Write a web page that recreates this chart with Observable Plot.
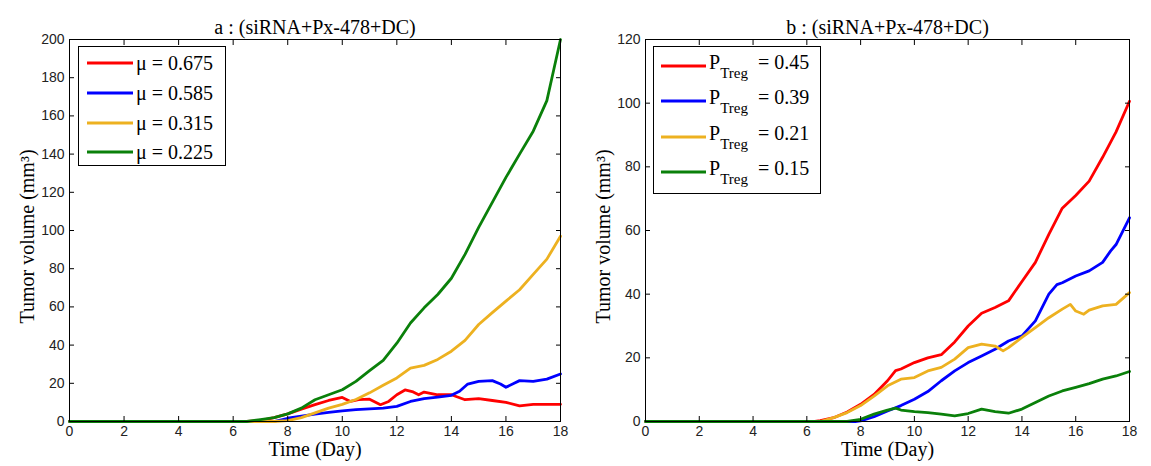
<!DOCTYPE html>
<html><head><meta charset="utf-8">
<script src="https://cdn.jsdelivr.net/npm/d3@7"></script>
<script src="https://cdn.jsdelivr.net/npm/@observablehq/plot@0.6"></script>
<style>
body{margin:0;background:#fff;}
#wrap{display:flex;width:1151px;height:466px;}
svg{overflow:visible}
</style></head><body><div id="wrap"></div>
<script>
// ---- Panel a ----
const titleA = "a : (siRNA+Px-478+DC)";
const titleB = "b : (siRNA+Px-478+DC)";
const xLabel = "Time (Day)";
const yLabel = "Tumor volume (mm³)";
const xTicks = [0,2,4,6,8,10,12,14,16,18];
const yTicksA = [0,20,40,60,80,100,120,140,160,180,200];
const yTicksB = [0,20,40,60,80,100,120];
const colors = ["#ff0000","#0000ff","#edb120","#0a800a"];

const labelsA = ["μ = 0.675","μ = 0.585","μ = 0.315","μ = 0.225"];
const aRedT = [0,6.5,7,7.5,8,8.5,9,9.5,10,10.3,10.6,11,11.4,11.7,12,12.3,12.6,12.8,13,13.5,14,14.5,15,15.5,16,16.5,17,17.5,18];
const aRedV = [0,0,0.5,2,4,6.5,8.8,11,12.6,10.5,11.4,11.7,8.8,10.5,14,16.5,15.5,14,15.4,14,14,11.4,12,11,10,8.2,9,9,9];
const aBlueT = [0,7.5,8,8.5,9,9.5,10,10.5,11,11.5,12,12.5,13,13.5,14,14.3,14.6,15,15.5,15.8,16,16.3,16.5,17,17.5,18];
const aBlueV = [0,0,1.7,2.8,3.9,4.8,5.6,6.2,6.6,7,7.9,10.5,12,12.8,13.7,15.8,19.6,21,21.4,19.6,17.9,20,21.4,21,22.2,24.9];
const aYellowT = [0,7.5,8,8.5,9,9.5,10,10.5,11,11.5,12,12.5,13,13.5,14,14.5,15,15.5,16,16.5,17,17.5,18];
const aYellowV = [0,0,0.5,2,4.5,7,9,11.5,15,19,22.8,28,29.4,32.5,36.8,42.5,50.8,57,63,69,77,85,97];
const aGreenT = [0,6.5,7,7.5,8,8.5,9,9.5,10,10.5,11,11.5,12,12.5,13,13.5,14,14.5,15,15.5,16,16.5,17,17.5,17.75,18];
const aGreenV = [0,0,1,2,4,7,11.4,14,16.6,21,26.6,32,41,51.6,59.5,66.5,75,87.5,101.6,114.7,127.8,140,152,168,184,200];

// ---- Panel b ----
const labelsB = ["0.45","0.39","0.21","0.15"];
const bRedT = [0,6.3,6.5,7,7.5,8,8.5,9,9.3,9.5,10,10.5,11,11.5,12,12.5,13,13.5,14,14.5,15,15.5,16,16.5,17,17.5,18];
const bRedV = [0,0,0.3,1.2,3,5.4,8.5,12.8,16,16.5,18.5,20,21,25,30,34,35.8,37.9,44,50,58.8,67,71,75.5,83,91,100.6];
const bBlueT = [0,7.8,8,8.5,9,9.5,10,10.5,11,11.5,12,12.5,13,13.5,14,14.5,15,15.3,15.5,16,16.5,17,17.3,17.5,18];
const bBlueV = [0,0,0.2,1.5,3.3,5,7,9.4,12.8,15.9,18.5,20.6,22.7,25.3,26.9,31.6,40,43,43.6,45.7,47.3,50,53.6,55.6,64];
const bYellowT = [0,6.5,7,7.5,8,8.5,9,9.5,10,10.5,11,11.5,12,12.5,13,13.3,13.5,14,14.5,15,15.5,15.8,16,16.3,16.5,17,17.5,18];
const bYellowV = [0,0,1.2,2.8,5,8,11.2,13.3,13.8,15.9,17,19.6,23.2,24.3,23.7,22.2,23.2,26.4,29.5,32.6,35.3,36.8,34.7,33.7,35,36.3,36.8,40.5];
const bGreenT = [0,7.5,8,8.5,9,9.3,9.5,10,10.5,11,11.5,12,12.5,13,13.5,14,14.5,15,15.5,16,16.5,17,17.5,18];
const bGreenV = [0,0,0.7,2.3,3.6,4.2,3.6,3.1,2.8,2.3,1.8,2.5,3.9,3.1,2.6,3.9,6,8,9.6,10.7,11.9,13.3,14.3,15.7];

function rows(ts, vs, k){ return ts.map((t,i)=>({t, v:vs[i], k})); }
const dataA = [
  ...rows(aRedT,aRedV,0), ...rows(aBlueT,aBlueV,1),
  ...rows(aYellowT,aYellowV,2), ...rows(aGreenT,aGreenV,3)];
const dataB = [
  ...rows(bRedT,bRedV,0), ...rows(bBlueT,bBlueV,1),
  ...rows(bYellowT,bYellowV,2), ...rows(bGreenT,bGreenV,3)];

const serif = "'Liberation Serif','Times New Roman',serif";
const sans = "'Liberation Sans',Arial,sans-serif";

function panel({data, title, yMax, yTicks, width, ml, mr}){
  const lineMarks = [0,1,2,3].map(k =>
    Plot.line(data.filter(d=>d.k===k),{x:"t",y:"v",stroke:colors[k],strokeWidth:2.8}));
  return Plot.plot({
    width, height:466,
    marginLeft:ml, marginRight:mr, marginTop:39, marginBottom:45,
    style:{fontFamily:sans, fontSize:"14px", color:"#222", background:"#fff"},
    x:{domain:[0,18], ticks:xTicks},
    y:{domain:[0,yMax], ticks:yTicks},
    marks:[
      ...lineMarks,
      Plot.frame({stroke:"#000"}),
      Plot.axisX({anchor:"bottom", ticks:xTicks, tickSize:5, dy:-5, text:null, label:null, stroke:"#000"}),
      Plot.axisX({anchor:"top", ticks:xTicks, tickSize:5, dy:5, text:null, label:null, stroke:"#000"}),
      Plot.axisY({anchor:"left", ticks:yTicks, tickSize:5, dx:5, text:null, label:null, stroke:"#000"}),
      Plot.axisY({anchor:"right", ticks:yTicks, tickSize:5, dx:-5, text:null, label:null, stroke:"#000"}),
      Plot.axisX({anchor:"bottom", ticks:xTicks, tickSize:0, tickPadding:5, label:null, fontSize:14}),
      Plot.axisY({anchor:"left", ticks:yTicks, tickSize:0, tickPadding:5, label:null, fontSize:14}),
      Plot.text([title],{frameAnchor:"top", dy:-20, fontFamily:serif, fontSize:20, letterSpacing:"0.5px", fill:"#000"}),
      Plot.text([xLabel],{frameAnchor:"bottom", dy:34, fontFamily:serif, fontSize:20, fill:"#000"}),
      Plot.text([yLabel],{frameAnchor:"left", textAnchor:"middle", rotate:-90, dx:-42, dy:6, fontFamily:serif, fontSize:20, fill:"#000"})
    ]
  });
}

const wrap = document.getElementById("wrap");
const pa = panel({data:dataA, title:titleA, yMax:200, yTicks:yTicksA, width:575, ml:69, mr:15});
const pb = panel({data:dataB, title:titleB, yMax:120, yTicks:yTicksB, width:576, ml:70, mr:22});
wrap.appendChild(pa); wrap.appendChild(pb);

// legends (inside each plot's frame)
function legendA(svg){
  const g = d3.select(svg).append("g").attr("text-anchor","start");
  g.append("rect").attr("x",78.5).attr("y",46.5).attr("width",147).attr("height",119).attr("fill","#fff").attr("stroke","#000");
  const ys=[63,93,123,152];
  labelsA.forEach((l,i)=>{
    g.append("line").attr("x1",87).attr("x2",133).attr("y1",ys[i]).attr("y2",ys[i]).attr("stroke",colors[i]).attr("stroke-width",2.8);
    g.append("text").attr("x",136).attr("y",ys[i]+7).attr("font-family",serif).attr("font-size",20).attr("fill","#000").text(l);
  });
}
function legendB(svg){
  const g = d3.select(svg).append("g").attr("text-anchor","start");
  g.append("rect").attr("x",78.5).attr("y",46.5).attr("width",167).attr("height",147).attr("fill","#fff").attr("stroke","#000");
  const ys=[66,101,137,172];
  labelsB.forEach((l,i)=>{
    g.append("line").attr("x1",86).attr("x2",131).attr("y1",ys[i]).attr("y2",ys[i]).attr("stroke",colors[i]).attr("stroke-width",2.8);
    const t = g.append("text").attr("x",134).attr("y",ys[i]+3).attr("font-family",serif).attr("font-size",20).attr("fill","#000");
    t.append("tspan").text("P");
    t.append("tspan").attr("dy",9).attr("font-size",15).text("Treg");
    t.append("tspan").attr("dy",-9).text("  = "+l);
  });
}
legendA(pa); legendB(pb);
</script></body></html>
